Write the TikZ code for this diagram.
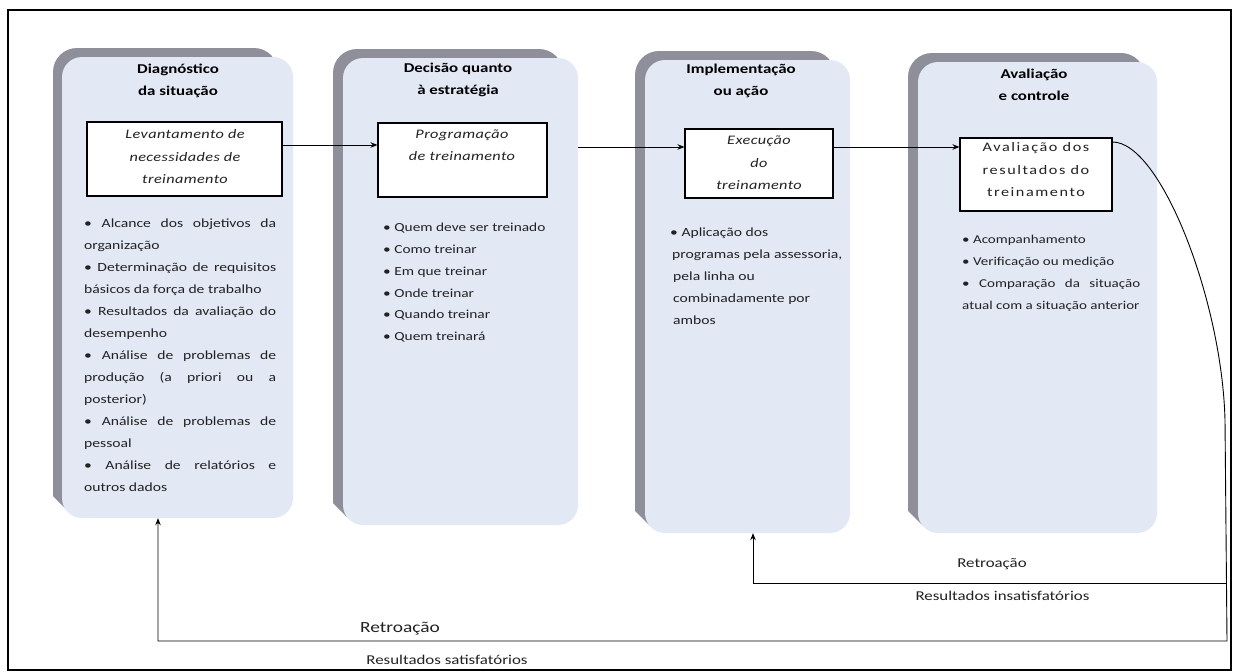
\documentclass[tikz,border=0pt]{standalone}
\usepackage{fontspec}
\setmainfont{Carlito}[FakeStretch=1.25]
\newfontfamily\boxit{Carlito}[FakeStretch=1.25,LetterSpace=3]
\newfontfamily\boxup{Carlito}[FakeStretch=1.25,LetterSpace=12]
\usetikzlibrary{arrows.meta}
\definecolor{panelblue}{HTML}{E3E8F5}
\definecolor{shadowgray}{HTML}{8E8F9B}
\definecolor{textc}{HTML}{222222}
\begin{document}
\begin{tikzpicture}[x=1pt,y=-1pt,
  panel/.style={fill=panelblue, rounded corners=20pt, inner sep=0pt, draw=none},
  shadowbar/.style={fill=shadowgray, rounded corners=24pt},
  whitebox/.style={draw=black, line width=1.1pt, fill=white, inner sep=0pt},
  title/.style={align=center, inner sep=0pt, font=\fontsize{13.5}{22}\selectfont\bfseries},
  boxtxt/.style={align=center, inner sep=0pt, text=textc, font=\boxit\itshape\fontsize{13}{22.5}\selectfont},
  boxtxtup/.style={align=center, inner sep=0pt, text=textc, font=\boxup\fontsize{13}{22.5}\selectfont},
  bul/.style={inner sep=0pt, text=textc, anchor=north west, font=\fontsize{12.5}{22}\selectfont},
  conn/.style={draw=black, line width=0.9pt},
  arr/.style={conn, -{Stealth[length=7pt,width=5.5pt]}},
  lbl/.style={inner sep=0pt, text=textc, font=\fontsize{13.5}{16}\selectfont}
]
\useasboundingbox (0,0) rectangle (1235,672);
\fill[white] (0,0) rectangle (1235,672);
\draw[line width=2pt] (8,10) rectangle (1231,670);

% shadows (top/left bevel behind each panel)
\fill[shadowbar] (53,48) rectangle (278,470);
\fill[shadowgray] (53,440) -- (53,496) -- (67,510) -- (90,510) -- (90,440) -- cycle;
\fill[shadowbar] (333,49) rectangle (563,480);
\fill[shadowgray] (333,450) -- (333,503) -- (347,517) -- (370,517) -- (370,450) -- cycle;
\fill[shadowbar] (635,51) rectangle (835,490);
\fill[shadowgray] (635,460) -- (635,511) -- (649,525) -- (672,525) -- (672,460) -- cycle;
\fill[shadowbar] (908,53) rectangle (1145,490);
\fill[shadowgray] (908,460) -- (908,511) -- (922,525) -- (945,525) -- (945,460) -- cycle;

% panels
\node[panel, minimum width=231pt, minimum height=461pt] (p1) at (177.5,287.5) {};
\node[panel, minimum width=235pt, minimum height=467pt] (p2) at (460.5,291.5) {};
\node[panel, minimum width=205pt, minimum height=473pt] (p3) at (747.5,296.5) {};
\node[panel, minimum width=239pt, minimum height=471pt] (p4) at (1037.5,297.5) {};

% titles
\node[title] (t1) at (178,81) {Diagnóstico\\da situação};
\node[title] (t2) at (458,80) {Decisão quanto\\à estratégia};
\node[title] (t3) at (741,81) {Implementação\\ou ação};
\node[title] (t4) at (1034,85) {Avaliação\\e controle};

% white boxes
\node[whitebox, minimum width=195pt, minimum height=74pt] (b1) at (184.5,159) {};
\node[whitebox, minimum width=169pt, minimum height=74pt] (b2) at (462.5,160) {};
\node[whitebox, minimum width=148pt, minimum height=69pt] (b3) at (759,163.5) {};
\node[whitebox, minimum width=152pt, minimum height=73pt] (b4) at (1036,174.5) {};

\node[boxtxt] (bt1) at (185,157) {Levantamento de\\necessidades de\\treinamento};
\node[boxtxt] (bt2) at (462,145) {Programação\\de treinamento};
\node[boxtxt] (bt3) at (759,163) {Execução\\do\\treinamento};
\node[boxtxtup] (bt4) at (1036,170) {Avaliação dos\\resultados do\\treinamento};

% bullet lists
\node[bul, text width=192pt, align=justify] (l1) at (84,219) {%
• Alcance dos objetivos da\linebreak organização\par
• Determinação de requisitos\linebreak básicos da força de trabalho\par
• Resultados da avaliação do\linebreak desempenho\par
• Análise de problemas de\linebreak produção (a priori ou a\linebreak posterior)\par
• Análise de problemas de\linebreak pessoal\par
• Análise de relatórios e\linebreak outros dados};

\node[bul, align=left, font=\fontsize{12.3}{21.8}\selectfont] (l2) at (383,223) {%
• Quem deve ser treinado\\
• Como treinar\\
• Em que treinar\\
• Onde treinar\\
• Quando treinar\\
• Quem treinará};

\node[bul, align=left, font=\fontsize{12.5}{21.8}\selectfont] (l3) at (670,228) {%
• Aplicação dos\\
\hspace*{2pt}programas pela assessoria,\\
\hspace*{3pt}pela linha ou\\
\hspace*{3pt}combinadamente por\\
\hspace*{3pt}ambos};

\node[bul, text width=178pt, align=justify, font=\fontsize{12}{22}\selectfont] (l4) at (962,235) {%
• Acompanhamento\par
• Verificação ou medição\par
• Comparação da situação\linebreak atual com a situação anterior};

% connectors
\draw[arr] ([yshift=14pt]b1.east) -- ([yshift=14pt]b1.east -| b2.west);
\draw[arr] ([yshift=16.5pt]b3.west -| p2.east) -- ([yshift=16.5pt]b3.west);
\draw[arr] ([yshift=16.5pt]b3.east) -- ([yshift=16.5pt]b3.east -| b4.west);

\coordinate (k1) at (1225,420);
\coordinate (k2) at (1227,641);
\coordinate (k3) at (1226,583);
\coordinate (f1) at ([xshift=-19.5pt]p1.south);
\coordinate (f3) at ([xshift=5.5pt]p3.south);

\draw[arr] ([yshift=32.5pt]b4.east) .. controls +(48,0) and (1222,300) .. (k1) -- (k2) -- (k2 -| f1) -- (f1);
\draw[arr] (k3) -- (k3 -| f3) -- (f3);

% labels
\node[lbl] (r1) at (992,564) {Retroação};
\node[lbl] (r2) at (1002.5,596) {Resultados insatisfatórios};
\node[lbl, font=\fontsize{15.5}{18}\selectfont] (r3) at (400,629) {Retroação};
\node[lbl] (r4) at (447,660) {Resultados satisfatórios};
\end{tikzpicture}
\end{document}
